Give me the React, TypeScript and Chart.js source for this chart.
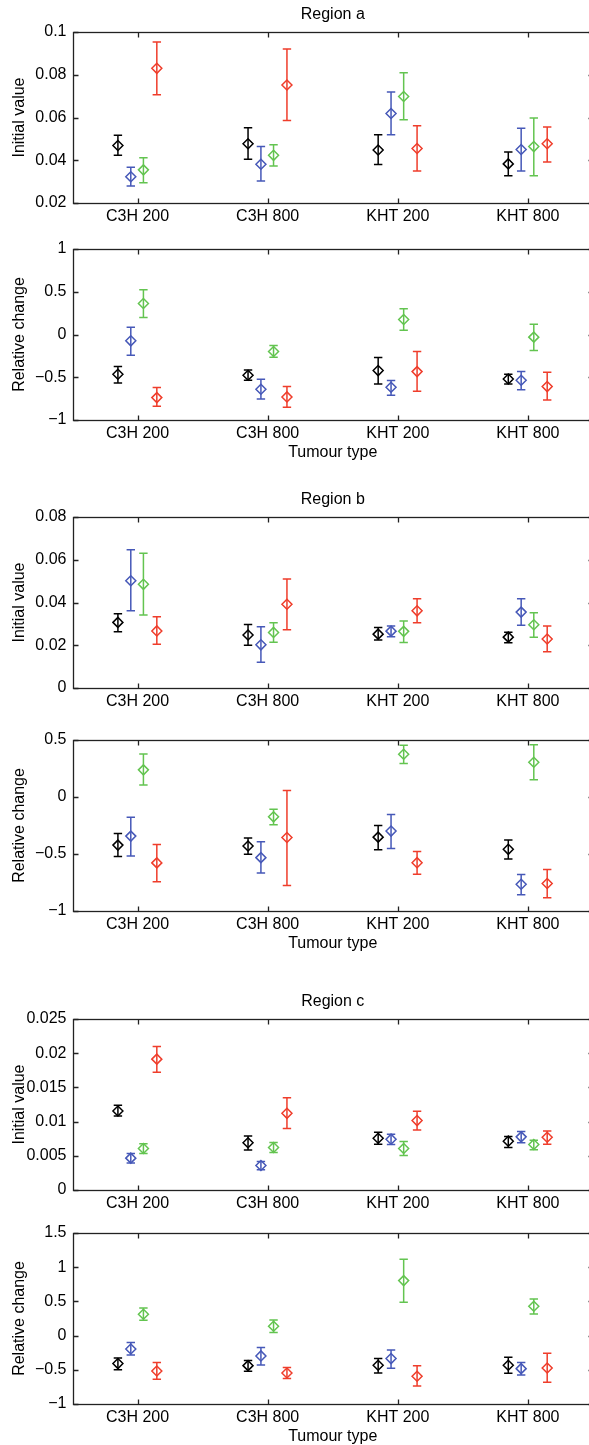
import React, { useEffect, useRef } from 'react';
import { Chart, registerables } from 'chart.js';

Chart.register(...registerables);

// ---------- data ----------
const categories = ['C3H 200', 'C3H 800', 'KHT 200', 'KHT 800'];
const seriesColors = ['#000000', '#4658b8', '#63c450', '#ef3d2b'];

// Region a – initial value (rows: black, blue, green, red)
const aInitMean = [
  [0.0469, 0.0477, 0.0448, 0.0383],
  [0.0323, 0.0381, 0.0619, 0.045],
  [0.0355, 0.0423, 0.0698, 0.0464],
  [0.083, 0.0752, 0.0455, 0.0477],
];
const aInitLow = [
  [0.0423, 0.0405, 0.038, 0.0327],
  [0.028, 0.0303, 0.0519, 0.035],
  [0.0295, 0.0373, 0.0589, 0.0328],
  [0.0706, 0.0586, 0.035, 0.0392],
];
const aInitHigh = [
  [0.0517, 0.0552, 0.0519, 0.0439],
  [0.0367, 0.0464, 0.0719, 0.055],
  [0.0412, 0.0472, 0.0809, 0.0598],
  [0.0953, 0.092, 0.0561, 0.0556],
];
const aInitTicks = [0.02, 0.04, 0.06, 0.08, 0.1];

// Region a – relative change
const aRelMean = [
  [-0.465, -0.477, -0.422, -0.52],
  [-0.074, -0.641, -0.617, -0.535],
  [0.363, -0.199, 0.176, -0.031],
  [-0.738, -0.73, -0.434, -0.609],
];
const aRelLow = [
  [-0.566, -0.535, -0.578, -0.578],
  [-0.242, -0.754, -0.711, -0.645],
  [0.199, -0.266, 0.051, -0.188],
  [-0.84, -0.852, -0.664, -0.766],
];
const aRelHigh = [
  [-0.375, -0.414, -0.27, -0.465],
  [0.086, -0.523, -0.539, -0.434],
  [0.523, -0.129, 0.301, 0.121],
  [-0.621, -0.609, -0.199, -0.441],
];
const aRelTicks = [-1, -0.5, 0, 0.5, 1];

// Region b – initial value
const bInitMean = [
  [0.0307, 0.0248, 0.0252, 0.0238],
  [0.0502, 0.0202, 0.0266, 0.0355],
  [0.0485, 0.026, 0.0265, 0.0296],
  [0.0267, 0.0392, 0.0361, 0.0229],
];
const bInitLow = [
  [0.0263, 0.02, 0.0224, 0.0212],
  [0.0361, 0.012, 0.024, 0.0293],
  [0.0342, 0.0214, 0.0213, 0.0237],
  [0.0205, 0.0273, 0.0305, 0.017],
];
const bInitHigh = [
  [0.0347, 0.0297, 0.0283, 0.0261],
  [0.0647, 0.0287, 0.029, 0.0417],
  [0.063, 0.0305, 0.0313, 0.0352],
  [0.0333, 0.051, 0.0417, 0.029],
];
const bInitTicks = [0, 0.02, 0.04, 0.06, 0.08];

// Region b – relative change
const bRelMean = [
  [-0.422, -0.43, -0.352, -0.459],
  [-0.343, -0.532, -0.299, -0.765],
  [0.238, -0.174, 0.375, 0.305],
  [-0.578, -0.355, -0.576, -0.759],
];
const bRelLow = [
  [-0.523, -0.503, -0.462, -0.544],
  [-0.517, -0.666, -0.451, -0.858],
  [0.105, -0.244, 0.294, 0.151],
  [-0.744, -0.776, -0.677, -0.884],
];
const bRelHigh = [
  [-0.32, -0.36, -0.25, -0.378],
  [-0.177, -0.392, -0.154, -0.68],
  [0.378, -0.108, 0.453, 0.459],
  [-0.416, 0.058, -0.477, -0.637],
];
const bRelTicks = [-1, -0.5, 0, 0.5];

// Region c – initial value
const cInitMean = [
  [0.01155, 0.0069, 0.00757, 0.00714],
  [0.00466, 0.00359, 0.00743, 0.00777],
  [0.00607, 0.00621, 0.00607, 0.00665],
  [0.01913, 0.01121, 0.01015, 0.00772],
];
const cInitLow = [
  [0.01083, 0.00583, 0.0067, 0.00621],
  [0.00393, 0.00296, 0.00665, 0.0069],
  [0.00534, 0.00549, 0.00505, 0.00587],
  [0.0172, 0.00898, 0.00879, 0.0067],
];
const cInitHigh = [
  [0.01238, 0.0079, 0.00845, 0.00782],
  [0.00534, 0.00417, 0.00816, 0.00854],
  [0.00675, 0.00694, 0.00709, 0.00728],
  [0.02097, 0.0135, 0.0115, 0.00864],
];
const cInitTicks = [0, 0.005, 0.01, 0.015, 0.02, 0.025];

// Region c – relative change
const cRelMean = [
  [-0.409, -0.439, -0.434, -0.434],
  [-0.195, -0.297, -0.336, -0.483],
  [0.312, 0.136, 0.804, 0.429],
  [-0.517, -0.546, -0.595, -0.473],
];
const cRelLow = [
  [-0.5, -0.522, -0.546, -0.551],
  [-0.283, -0.429, -0.478, -0.575],
  [0.224, 0.044, 0.487, 0.317],
  [-0.639, -0.629, -0.736, -0.683],
];
const cRelHigh = [
  [-0.327, -0.365, -0.336, -0.317],
  [-0.102, -0.175, -0.21, -0.395],
  [0.404, 0.229, 1.117, 0.536],
  [-0.395, -0.468, -0.439, -0.258],
];
const cRelTicks = [-1, -0.5, 0, 0.5, 1, 1.5];

// ---------- layout / style ----------
const SERIES_OFFSETS = [-0.151, -0.052, 0.045, 0.148];
const FONT_FAMILY = '"Liberation Sans", Arial, Helvetica, sans-serif';
const FONT = { family: FONT_FAMILY, size: 16 };
const AXIS_COLOR = '#222222';
const CANVAS_W = 600;
const PAD_TOP = 40;
const X_AXIS_H = 45;
const Y_AXIS_W = 72.5;
const PLOT_RIGHT = 593;
const PLOT_H = 171;

type PanelCfg = {
  title: string;
  yLabel: string;
  xLabel: string;
  ticks: number[];
  mean: number[][];
  low: number[][];
  high: number[][];
  plotTop: number;
};

const panels: PanelCfg[] = [
  { title: 'Region a', yLabel: 'Initial value', xLabel: '', ticks: aInitTicks, mean: aInitMean, low: aInitLow, high: aInitHigh, plotTop: 32 },
  { title: '', yLabel: 'Relative change', xLabel: 'Tumour type', ticks: aRelTicks, mean: aRelMean, low: aRelLow, high: aRelHigh, plotTop: 249 },
  { title: 'Region b', yLabel: 'Initial value', xLabel: '', ticks: bInitTicks, mean: bInitMean, low: bInitLow, high: bInitHigh, plotTop: 517 },
  { title: '', yLabel: 'Relative change', xLabel: 'Tumour type', ticks: bRelTicks, mean: bRelMean, low: bRelLow, high: bRelHigh, plotTop: 740 },
  { title: 'Region c', yLabel: 'Initial value', xLabel: '', ticks: cInitTicks, mean: cInitMean, low: cInitLow, high: cInitHigh, plotTop: 1019 },
  { title: '', yLabel: 'Relative change', xLabel: 'Tumour type', ticks: cRelTicks, mean: cRelMean, low: cRelLow, high: cRelHigh, plotTop: 1233 },
];

const fmt = (v: number) => {
  const s = String(Number(v.toFixed(6)));
  return s.replace('-', '\u2212');
};

function Panel({ cfg }: { cfg: PanelCfg }) {
  const ref = useRef<HTMLCanvasElement | null>(null);
  const H = PAD_TOP + PLOT_H + X_AXIS_H;

  useEffect(() => {
    if (!ref.current) return;
    const framePlugin = {
      id: 'matlabFrame',
      beforeDatasetsDraw(chart: any) {
        const ctx = chart.ctx;
        const ys = chart.scales.y;
        ctx.save();
        ctx.lineWidth = 1.5;
        chart.data.datasets.forEach((ds: any, si: number) => {
          const meta = chart.getDatasetMeta(si);
          ctx.strokeStyle = ds.borderColor;
          meta.data.forEach((pt: any, i: number) => {
            const yl = ys.getPixelForValue(cfg.low[si][i]);
            const yh = ys.getPixelForValue(cfg.high[si][i]);
            const x = pt.x;
            const cap = 4.2;
            ctx.beginPath();
            ctx.moveTo(x, yl);
            ctx.lineTo(x, yh);
            ctx.moveTo(x - cap, yl);
            ctx.lineTo(x + cap, yl);
            ctx.moveTo(x - cap, yh);
            ctx.lineTo(x + cap, yh);
            ctx.stroke();
          });
        });
        ctx.restore();
      },
      afterDraw(chart: any) {
        const ctx = chart.ctx;
        const { left, right, top, bottom } = chart.chartArea;
        const xs = chart.scales.x;
        const ys = chart.scales.y;
        const L = Math.round(left) + 0.5;
        const R = Math.round(right) + 0.5;
        const T = Math.round(top) + 0.5;
        const B = Math.round(bottom) + 0.5;
        ctx.save();
        ctx.strokeStyle = AXIS_COLOR;
        ctx.lineWidth = 1.3;
        ctx.strokeRect(L, T, R - L, B - T);
        const tl = 5;
        ctx.beginPath();
        xs.ticks.forEach((t: any) => {
          const px = Math.round(xs.getPixelForValue(t.value)) + 0.5;
          ctx.moveTo(px, B);
          ctx.lineTo(px, B - tl);
          ctx.moveTo(px, T);
          ctx.lineTo(px, T + tl);
        });
        ys.ticks.forEach((t: any) => {
          const py = Math.round(ys.getPixelForValue(t.value)) + 0.5;
          ctx.moveTo(L, py);
          ctx.lineTo(L + tl, py);
          ctx.moveTo(R, py);
          ctx.lineTo(R - tl, py);
        });
        ctx.stroke();
        if (cfg.title) {
          ctx.fillStyle = '#000';
          ctx.font = `16px ${FONT_FAMILY}`;
          ctx.textAlign = 'center';
          ctx.textBaseline = 'middle';
          ctx.fillText(cfg.title, (left + right) / 2, top - 17);
        }
        ctx.restore();
      },
    };

    const chart = new Chart(ref.current, {
      type: 'scatter',
      data: {
        datasets: cfg.mean.map((vals, si) => ({
          label: `series ${si + 1}`,
          data: vals.map((v, i) => ({ x: i + 1 + SERIES_OFFSETS[si], y: v })),
          borderColor: seriesColors[si],
          backgroundColor: 'rgba(0,0,0,0)',
          pointStyle: 'rectRot',
          pointRadius: 5,
          pointBorderWidth: 1.5,
          pointBorderColor: seriesColors[si],
          pointBackgroundColor: 'rgba(0,0,0,0)',
          showLine: false,
        })),
      },
      options: {
        animation: false,
        responsive: false,
        events: [],
        layout: { padding: { top: PAD_TOP, right: CANVAS_W - PLOT_RIGHT, bottom: 0, left: 0 } },
        plugins: {
          legend: { display: false },
          tooltip: { enabled: false },
          title: { display: false },
        },
        scales: {
          x: {
            type: 'linear',
            min: 0.5,
            max: 4.5,
            grid: { display: false, drawTicks: false },
            border: { display: false },
            afterBuildTicks: (s: any) => {
              s.ticks = categories.map((_, i) => ({ value: i + 1 }));
            },
            ticks: {
              autoSkip: false,
              maxRotation: 0,
              padding: 4,
              color: '#000',
              font: FONT,
              callback: (v: any) => categories[Math.round(Number(v)) - 1] ?? '',
            },
            title: {
              display: !!cfg.xLabel,
              text: cfg.xLabel,
              color: '#000',
              font: FONT,
              padding: { top: 0, bottom: 2.4 },
            },
            afterFit: (s: any) => {
              s.height = X_AXIS_H;
            },
          },
          y: {
            type: 'linear',
            min: cfg.ticks[0],
            max: cfg.ticks[cfg.ticks.length - 1],
            grid: { display: false, drawTicks: false },
            border: { display: false },
            afterBuildTicks: (s: any) => {
              s.ticks = cfg.ticks.map((v) => ({ value: v }));
            },
            ticks: {
              padding: 6,
              color: '#000',
              font: FONT,
              callback: (v: any) => fmt(Number(v)),
            },
            title: {
              display: true,
              text: cfg.yLabel,
              color: '#000',
              font: FONT,
              padding: { top: 10, bottom: 0 },
            },
            afterFit: (s: any) => {
              s.width = Y_AXIS_W;
            },
          },
        },
      },
      plugins: [framePlugin],
    } as any);
    return () => chart.destroy();
  }, [cfg]);

  return (
    <canvas
      ref={ref}
      width={CANVAS_W}
      height={H}
      style={{ position: 'absolute', left: 0, top: cfg.plotTop - PAD_TOP, width: CANVAS_W, height: H }}
    />
  );
}

export default function App() {
  return (
    <div
      style={{
        position: 'absolute',
        left: 0,
        top: 0,
        width: 589,
        height: 1445,
        overflow: 'hidden',
        background: '#fff',
      }}
    >
      {panels.map((p, i) => (
        <Panel key={i} cfg={p} />
      ))}
    </div>
  );
}
